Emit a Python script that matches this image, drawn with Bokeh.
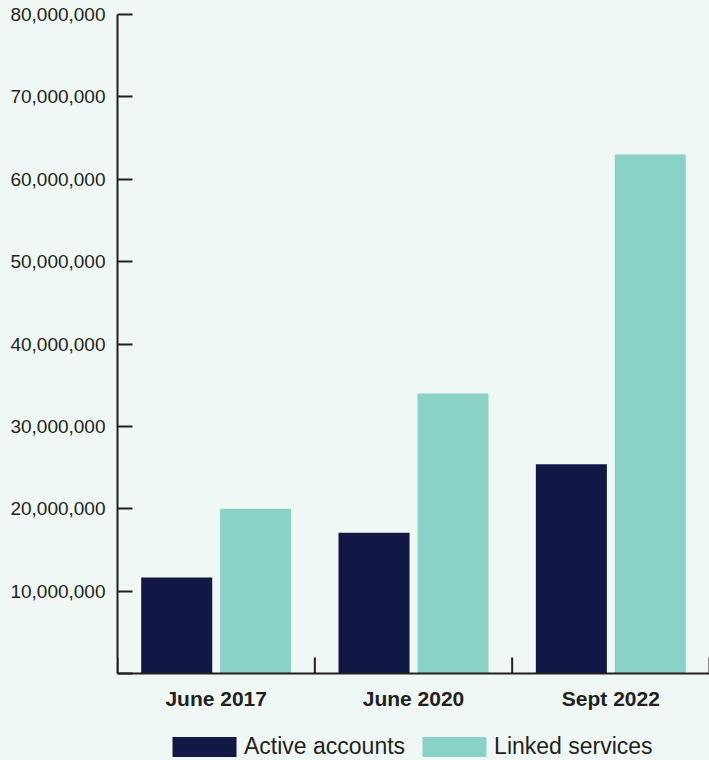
from bokeh.plotting import figure
from bokeh.models import (ColumnDataSource, FixedTicker, NumeralTickFormatter, Legend, LegendItem,
                          Range1d, Span, GlobalInlineStyleSheet)
from bokeh.core.properties import value
from bokeh.transform import dodge
from bokeh.embed import file_html
from bokeh.resources import INLINE

categories = ["June 2017", "June 2020", "Sept 2022"]
active_accounts = [11_650_000, 17_100_000, 25_400_000]
linked_services = [20_000_000, 34_000_000, 63_000_000]
y_ticks = [0, 10_000_000, 20_000_000, 30_000_000, 40_000_000, 50_000_000, 60_000_000, 70_000_000, 80_000_000]
y_max = 80_000_000

BG = "#f0f8f5"
TXT = "#231f20"
FONT = "Liberation Sans"

# layout (pixels)
PLOT_H = 659          # 0 .. y_max
BELOW_H = 87          # room under the zero line for category labels + legend
TICK_PX = 16

y_per_px = y_max / PLOT_H
pos = [i + 0.5 for i in range(len(categories))]
bounds = list(range(len(categories) + 1))
src = ColumnDataSource(dict(x=pos, active=active_accounts, linked=linked_services, cat=categories))

p = figure(frame_width=592, frame_height=PLOT_H + BELOW_H, output_backend="svg", toolbar_location=None,
           x_range=Range1d(0, len(categories)), y_range=Range1d(-BELOW_H * y_per_px, y_max))
p.min_border_left = 117
p.min_border_right = 0
p.min_border_top = 14
p.min_border_bottom = 0
p.background_fill_color = BG
p.border_fill_color = BG
p.outline_line_color = None
p.grid.visible = False
p.xaxis.visible = False
p.stylesheets = [GlobalInlineStyleSheet(css=f"body{{background:{BG};overflow:hidden;}}")]

r1 = p.vbar(x=dodge("x", -0.2, range=p.x_range), top="active", width=0.36, source=src,
            fill_color="#131746", line_color=None)
r2 = p.vbar(x=dodge("x", 0.2, range=p.x_range), top="linked", width=0.36, source=src,
            fill_color="#8ad2c6", line_color=None)

# y axis
ya = p.yaxis[0]
ya.bounds = (0, y_max)
ya.ticker = FixedTicker(ticks=y_ticks, minor_ticks=[])
ya.formatter = NumeralTickFormatter(format="0,0")
ya.major_label_overrides = {0: ""}
ya.major_tick_in = 15
ya.major_tick_out = 0
ya.major_tick_line_width = 2
ya.major_tick_line_color = TXT
ya.axis_line_width = 2
ya.axis_line_color = TXT
ya.major_label_text_font = FONT
ya.major_label_text_font_size = "19px"
ya.major_label_text_color = TXT
ya.major_label_standoff = 12

# category (x) axis drawn at zero
p.add_layout(Span(location=0, dimension="width", line_color=TXT, line_width=2))
p.segment(x0=bounds, y0=[0] * len(bounds), x1=bounds, y1=[TICK_PX * y_per_px] * len(bounds),
          line_color=TXT, line_width=2)
p.text(x="x", y=0, text="cat", source=src, y_offset=25, text_align="center", text_baseline="middle",
       text_font=value(FONT), text_font_size=value("21px"), text_font_style="bold", text_color=TXT)

legend = Legend(items=[LegendItem(label="Active accounts", renderers=[r1]),
                       LegendItem(label="Linked services", renderers=[r2])],
                orientation="horizontal", location=(47, 0))
legend.border_line_color = None
legend.background_fill_alpha = 0
legend.label_text_font = FONT
legend.label_text_font_size = "23px"
legend.label_text_color = TXT
legend.glyph_width = 80
legend.glyph_height = 25
legend.label_standoff = -2
legend.spacing = 9
legend.padding = 0
legend.margin = 0
p.add_layout(legend, "center")

open("out.html", "w").write(file_html(p, INLINE))
